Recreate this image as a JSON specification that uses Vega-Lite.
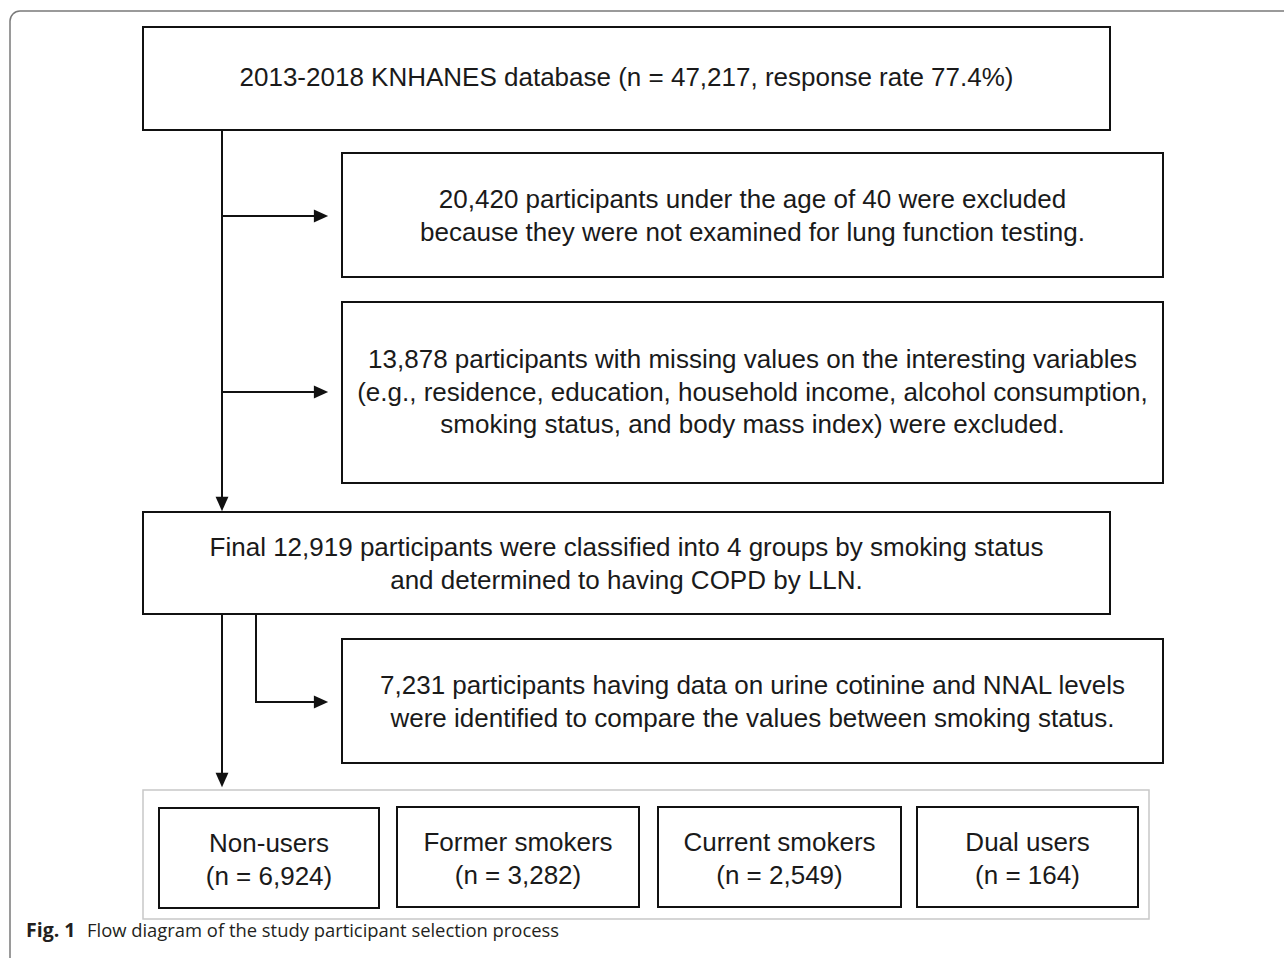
{
  "$schema": "https://vega.github.io/schema/vega-lite/v6.json",
  "width": 1284,
  "height": 958,
  "padding": 0,
  "autosize": {"type": "none"},
  "background": "white",
  "config": {"view": {"stroke": null}},
  "datasets": {
    "border": [{"x": 10, "x2": 1300, "y": 11, "y2": 990}],
    "container": [{"x": 143, "x2": 1149, "y": 790, "y2": 919}],
    "boxes": [
      {"id": "top", "x": 143, "x2": 1110, "y": 27, "y2": 130},
      {"id": "excl1", "x": 342, "x2": 1163, "y": 153, "y2": 277},
      {"id": "excl2", "x": 342, "x2": 1163, "y": 302, "y2": 483},
      {"id": "final", "x": 143, "x2": 1110, "y": 512, "y2": 614},
      {"id": "sub", "x": 342, "x2": 1163, "y": 639, "y2": 763},
      {"id": "non", "x": 159, "x2": 379, "y": 808, "y2": 908},
      {"id": "former", "x": 397, "x2": 639, "y": 807, "y2": 907},
      {"id": "current", "x": 658, "x2": 901, "y": 807, "y2": 907},
      {"id": "dual", "x": 917, "x2": 1138, "y": 807, "y2": 907}
    ],
    "segments": [
      {"x": 222, "y": 130, "x2": 222, "y2": 505},
      {"x": 222, "y": 216, "x2": 322, "y2": 216},
      {"x": 222, "y": 392, "x2": 322, "y2": 392},
      {"x": 222, "y": 614, "x2": 222, "y2": 781},
      {"x": 256, "y": 614, "x2": 256, "y2": 702},
      {"x": 255, "y": 702, "x2": 322, "y2": 702}
    ],
    "arrowsRight": [
      {"x": 321, "y": 216},
      {"x": 321, "y": 392},
      {"x": 321, "y": 702}
    ],
    "arrowsDown": [
      {"x": 222, "y": 504},
      {"x": 222, "y": 780}
    ],
    "labels": [
      {"x": 626.5, "y": 78, "t": "2013-2018 KNHANES database (n = 47,217, response rate 77.4%)"},
      {"x": 752.5, "y": 200, "t": "20,420 participants under the age of 40 were excluded\nbecause they were not examined for lung function testing."},
      {"x": 752.5, "y": 360, "t": "13,878 participants with missing values on the interesting variables\n(e.g., residence, education, household income, alcohol consumption,\nsmoking status, and body mass index) were excluded."},
      {"x": 626.5, "y": 548, "t": "Final 12,919 participants were classified into 4 groups by smoking status\nand determined to having COPD by LLN."},
      {"x": 752.5, "y": 686, "t": "7,231 participants having data on urine cotinine and NNAL levels\nwere identified to compare the values between smoking status."},
      {"x": 269, "y": 844, "t": "Non-users\n(n = 6,924)"},
      {"x": 518, "y": 843, "t": "Former smokers\n(n = 3,282)"},
      {"x": 779.5, "y": 843, "t": "Current smokers\n(n = 2,549)"},
      {"x": 1027.5, "y": 843, "t": "Dual users\n(n = 164)"}
    ],
    "capBold": [{"x": 26, "y": 937, "t": "Fig. 1"}],
    "capText": [{"x": 87, "y": 937, "t": "Flow diagram of the study participant selection process"}]
  },
  "layer": [
    {
      "data": {"name": "border"},
      "mark": {"type": "rect", "filled": false, "stroke": "#7a7a7a", "strokeWidth": 1.5, "cornerRadius": 10, "clip": true},
      "encoding": {
        "x": {"field": "x", "type": "quantitative", "scale": {"domain": [0, 1284]}, "axis": null},
        "x2": {"field": "x2"},
        "y": {"field": "y", "type": "quantitative", "scale": {"domain": [0, 958], "reverse": true}, "axis": null},
        "y2": {"field": "y2"}
      }
    },
    {
      "data": {"name": "container"},
      "mark": {"type": "rect", "filled": false, "stroke": "#c8c8c8", "strokeWidth": 1.5},
      "encoding": {
        "x": {"field": "x", "type": "quantitative", "scale": {"domain": [0, 1284]}, "axis": null},
        "x2": {"field": "x2"},
        "y": {"field": "y", "type": "quantitative", "scale": {"domain": [0, 958], "reverse": true}, "axis": null},
        "y2": {"field": "y2"}
      }
    },
    {
      "data": {"name": "segments"},
      "mark": {"type": "rule", "color": "#111111", "strokeWidth": 2},
      "encoding": {
        "x": {"field": "x", "type": "quantitative", "scale": {"domain": [0, 1284]}, "axis": null},
        "x2": {"field": "x2"},
        "y": {"field": "y", "type": "quantitative", "scale": {"domain": [0, 958], "reverse": true}, "axis": null},
        "y2": {"field": "y2"}
      }
    },
    {
      "data": {"name": "boxes"},
      "mark": {"type": "rect", "fill": "white", "stroke": "#111111", "strokeWidth": 2},
      "encoding": {
        "x": {"field": "x", "type": "quantitative", "scale": {"domain": [0, 1284]}, "axis": null},
        "x2": {"field": "x2"},
        "y": {"field": "y", "type": "quantitative", "scale": {"domain": [0, 958], "reverse": true}, "axis": null},
        "y2": {"field": "y2"}
      }
    },
    {
      "data": {"name": "arrowsRight"},
      "mark": {"type": "point", "shape": "M-1,-0.9L1,0L-1,0.9Z", "filled": true, "color": "#111111", "opacity": 1, "size": 204, "strokeWidth": 0},
      "encoding": {
        "x": {"field": "x", "type": "quantitative", "scale": {"domain": [0, 1284]}, "axis": null},
        "y": {"field": "y", "type": "quantitative", "scale": {"domain": [0, 958], "reverse": true}, "axis": null}
      }
    },
    {
      "data": {"name": "arrowsDown"},
      "mark": {"type": "point", "shape": "M-0.9,-1L0,1L0.9,-1Z", "filled": true, "color": "#111111", "opacity": 1, "size": 204, "strokeWidth": 0},
      "encoding": {
        "x": {"field": "x", "type": "quantitative", "scale": {"domain": [0, 1284]}, "axis": null},
        "y": {"field": "y", "type": "quantitative", "scale": {"domain": [0, 958], "reverse": true}, "axis": null}
      }
    },
    {
      "data": {"name": "labels"},
      "mark": {"type": "text", "align": "center", "baseline": "middle", "font": "Liberation Sans", "fontSize": 26, "lineHeight": 32.5, "lineBreak": "\n", "color": "#1a1a1a"},
      "encoding": {
        "x": {"field": "x", "type": "quantitative", "scale": {"domain": [0, 1284]}, "axis": null},
        "y": {"field": "y", "type": "quantitative", "scale": {"domain": [0, 958], "reverse": true}, "axis": null},
        "text": {"field": "t", "type": "nominal"}
      }
    },
    {
      "data": {"name": "capBold"},
      "mark": {"type": "text", "align": "left", "baseline": "alphabetic", "font": "Open Sans", "fontSize": 19.5, "fontWeight": "bold", "color": "#231f20"},
      "encoding": {
        "x": {"field": "x", "type": "quantitative", "scale": {"domain": [0, 1284]}, "axis": null},
        "y": {"field": "y", "type": "quantitative", "scale": {"domain": [0, 958], "reverse": true}, "axis": null},
        "text": {"field": "t", "type": "nominal"}
      }
    },
    {
      "data": {"name": "capText"},
      "mark": {"type": "text", "align": "left", "baseline": "alphabetic", "font": "Open Sans", "fontSize": 18.4, "color": "#231f20"},
      "encoding": {
        "x": {"field": "x", "type": "quantitative", "scale": {"domain": [0, 1284]}, "axis": null},
        "y": {"field": "y", "type": "quantitative", "scale": {"domain": [0, 958], "reverse": true}, "axis": null},
        "text": {"field": "t", "type": "nominal"}
      }
    }
  ]
}
